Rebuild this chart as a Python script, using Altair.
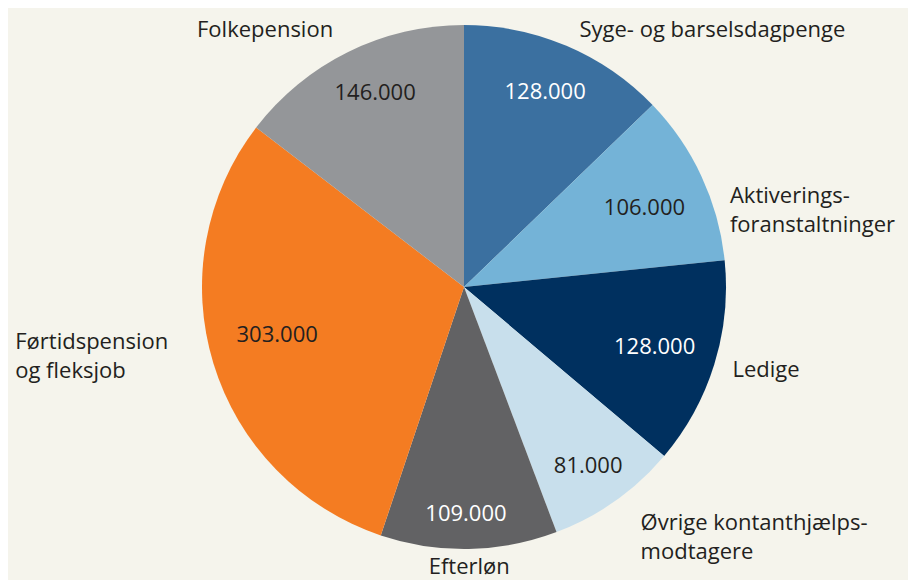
import altair as alt
import pandas as pd

categories = ["Syge- og barselsdagpenge", "Aktiverings-\nforanstaltninger", "Ledige",
              "Øvrige kontanthjælps-\nmodtagere", "Efterløn", "Førtidspension\nog fleksjob",
              "Folkepension"]
values = [128, 106, 128, 81, 109, 303, 146]
value_labels = ["128.000", "106.000", "128.000", "81.000", "109.000", "303.000", "146.000"]
colors = ["#3B70A0", "#74B3D7", "#00305F", "#C8DFEC", "#626264", "#F47C22", "#949699"]
label_colors = ["#FFFFFF", "#231F20", "#FFFFFF", "#231F20", "#FFFFFF", "#231F20", "#231F20"]

df = pd.DataFrame({
    "idx": list(range(len(values))),
    "category": categories,
    "value": values,
    "vlabel": value_labels,
    "lcolor": label_colors,
})
total = sum(values)

CX, CY, R = 456, 279, 262
FONT = "Open Sans"
theta_scale = alt.Scale(domain=[0, total])

base = alt.Chart(df).transform_window(
    cum="sum(value)", sort=[alt.SortField("idx")], frame=[None, 0]
).transform_calculate(mid="datum.cum - datum.value / 2")

pie = base.mark_arc(radius=R).encode(
    theta=alt.Theta("value:Q", stack=True, scale=theta_scale),
    order=alt.Order("idx:Q"),
    color=alt.Color("category:N", scale=alt.Scale(domain=categories, range=colors), legend=None),
    x=alt.value(CX), y=alt.value(CY),
)

layers = [pie]

# value labels: (category index, dx, dy) nudges from the mid-angle point
value_specs = [(0, -1, -2), (1, -10, 9), (2, -10, -2), (3, 3, 7),
               (4, -2, 17), (5, 14, -13), (6, 4, -6)]
for i, dx, dy in value_specs:
    layers.append(
        base.transform_filter(alt.datum.idx == i).mark_text(
            font=FONT, fontSize=22, baseline="middle", align="center", dx=dx, dy=dy,
        ).encode(
            theta=alt.Theta("mid:Q", stack=None, scale=theta_scale),
            radius=alt.value(210),
            text="vlabel:N",
            color=alt.Color("lcolor:N", scale=None),
            x=alt.value(CX), y=alt.value(CY),
        )
    )

# outer labels: (category index, align, dx, dy)
outer_specs = [
    (0, "left", 6, 1),
    (1, "left", 12, 27),
    (2, "left", 1, 0),
    (3, "left", 15, 7),
    (4, "center", 0, 0),
    (5, "left", -181, -27),
    (6, "right", -7, -6),
]
for i, align, dx, dy in outer_specs:
    layers.append(
        base.transform_filter(alt.datum.idx == i).mark_text(
            font=FONT, fontSize=22, baseline="middle", align=align, dx=dx, dy=dy,
            lineBreak="\n", lineHeight=29, color="#231F20",
        ).encode(
            theta=alt.Theta("mid:Q", stack=None, scale=theta_scale),
            radius=alt.value(280),
            text="category:N",
            x=alt.value(CX), y=alt.value(CY),
        )
    )

chart = alt.layer(*layers).properties(
    width=900, height=572, autosize=alt.AutoSizeParams(type="none"), padding=0,
    background="#F5F4EC",
).configure_view(stroke=None)

chart.save("out.html", embed_options={"renderer": "svg", "actions": False})
